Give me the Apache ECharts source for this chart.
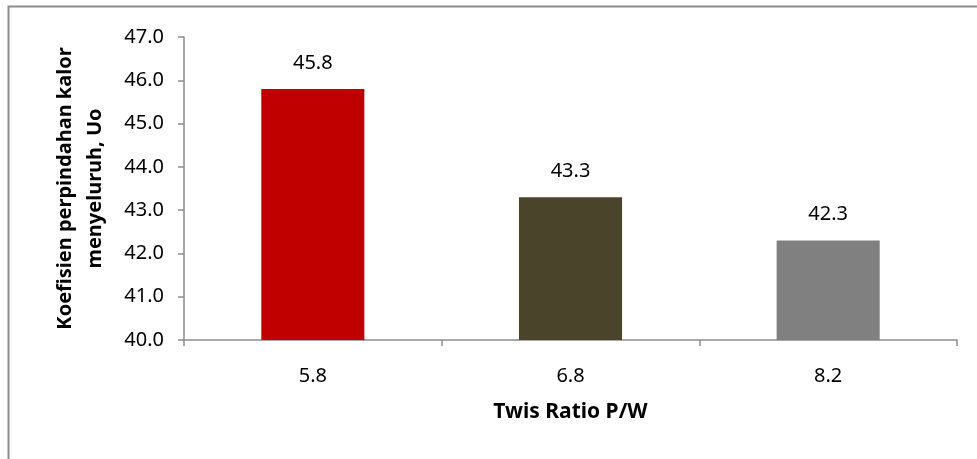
<!DOCTYPE html>
<html>
<head>
<meta charset="utf-8">
<script src="https://cdn.jsdelivr.net/npm/echarts@6/dist/echarts.min.js"></script>
<style>
  html, body { margin: 0; padding: 0; background: #fff; }
  #chart { width: 977px; height: 459px; }
</style>
</head>
<body>
<div id="chart"></div>
<script>
// Twist ratio categories and overall heat transfer coefficient values
const ratios = ['5.8', '6.8', '8.2'];
const uoValues = [45.8, 43.3, 42.3];
const barColors = ['#C00000', '#4A452A', '#808080'];
const yTicks = { min: 40, max: 47, interval: 1 };

const font = '"Noto Sans", "Open Sans", sans-serif';

const chart = echarts.init(document.getElementById('chart'), null, { renderer: 'canvas' });

chart.setOption({
  animation: false,
  backgroundColor: '#ffffff',
  graphic: [{
    type: 'rect',
    shape: { x: 8.5, y: 6.5, width: 1000, height: 500 },
    style: { fill: 'none', stroke: '#8c8c8c', lineWidth: 2 },
    silent: true
  }],
  grid: { left: 184, top: 37, width: 773, height: 303, containLabel: false },
  xAxis: {
    type: 'category',
    data: ratios,
    name: 'Twis Ratio P/W',
    nameLocation: 'middle',
    nameGap: 62,
    nameTextStyle: { fontFamily: font, fontSize: 21, fontWeight: 'bold', color: '#000' },
    axisLine: { lineStyle: { color: '#8c8c8c', width: 1.5 } },
    axisTick: { show: true, alignWithLabel: false, length: 6, lineStyle: { color: '#8c8c8c', width: 1.5 } },
    axisLabel: { fontFamily: font, fontSize: 20, color: '#000', margin: 26 },
    splitLine: { show: false }
  },
  yAxis: {
    type: 'value',
    min: yTicks.min,
    max: yTicks.max,
    interval: yTicks.interval,
    name: 'Koefisien perpindahan kalor\nmenyeluruh, Uo',
    nameLocation: 'middle',
    nameGap: 74,
    nameRotate: 90,
    nameTextStyle: { fontFamily: font, fontSize: 20, fontWeight: 'bold', color: '#000', lineHeight: 30, align: 'center' },
    axisLine: { show: true, lineStyle: { color: '#8c8c8c', width: 1.5 } },
    axisTick: { show: true, length: 6, lineStyle: { color: '#8c8c8c', width: 1.5 } },
    axisLabel: {
      fontFamily: font, fontSize: 20, color: '#000', margin: 20,
      formatter: v => v.toFixed(1)
    },
    splitLine: { show: false }
  },
  series: [{
    type: 'bar',
    barWidth: '40%',
    data: uoValues.map((v, i) => ({ value: v, itemStyle: { color: barColors[i] } })),
    label: {
      show: true,
      position: 'top',
      distance: 16,
      fontFamily: font,
      fontSize: 20,
      color: '#000',
      formatter: p => p.value.toFixed(1)
    }
  }]
});
</script>
</body>
</html>
